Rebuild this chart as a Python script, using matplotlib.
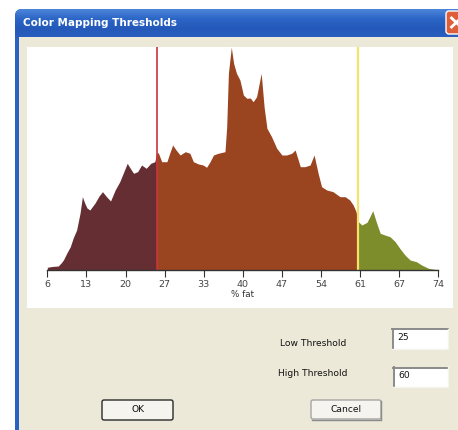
import numpy as np
import matplotlib
matplotlib.use("Agg")
import matplotlib.pyplot as plt
from matplotlib.patches import Rectangle, FancyBboxPatch
from matplotlib.colors import LinearSegmentedColormap

# ---------------- data ----------------
fat_pct = [6.0, 6.8, 7.9, 8.4, 8.8, 9.4, 10.0, 10.5, 11.1, 11.7, 12.1, 12.5, 12.9,
           13.4, 14.3, 15.0, 15.6, 16.3, 17.0, 17.8, 18.6, 19.2, 19.9, 20.4, 21.0,
           21.7, 22.4, 23.2, 24.0, 24.7, 25.0, 25.3, 25.9, 26.8, 27.3, 27.8, 28.4,
           29.1, 30.0, 30.8, 31.4, 32.3, 33.1, 33.7, 34.3, 34.9, 35.7, 36.9, 37.2,
           37.5, 38.0, 38.4, 38.9, 39.5, 40.1, 40.7, 41.3, 41.8, 42.4, 42.8, 43.2,
           43.7, 44.2, 45.0, 45.9, 46.8, 47.6, 48.5, 49.1, 50.0, 50.8, 51.7, 52.4,
           53.1, 53.7, 54.6, 55.7, 56.9, 57.8, 58.6, 59.2, 59.7, 60.0, 60.1, 60.7,
           61.6, 62.1, 62.6, 63.2, 63.9, 64.7, 65.6, 66.5, 67.3, 68.2, 69.1, 70.2,
           71.1, 72.3, 73.4, 74.0]
counts = [2.7, 3.5, 4.0, 7.0, 10.0, 17.0, 23.3, 32.0, 40.0, 57.0, 73.3, 67.0, 62.0,
          60.0, 67.0, 74.0, 78.3, 73.3, 69.0, 80.0, 88.3, 96.7, 106.7, 102.0, 96.7,
          98.3, 105.0, 101.7, 106.7, 108.3, 116.7, 117.3, 108.3, 108.3, 117.0, 125.0, 120.0,
          115.0, 118.3, 116.7, 108.3, 106.0, 105.0, 102.7, 108.3, 115.0, 116.7, 118.3, 143.3,
          197.0, 222.7, 206.7, 196.7, 190.0, 175.0, 171.7, 172.0, 168.3, 173.3, 185.0, 196.7,
          163.3, 141.7, 133.3, 121.7, 115.0, 115.0, 116.7, 120.0, 103.3, 103.3, 105.0, 115.0,
          96.7, 83.3, 80.0, 78.3, 73.3, 73.3, 70.0, 65.0, 58.3, 49.0, 48.3, 45.0,
          47.7, 53.3, 59.3, 48.3, 36.7, 35.0, 33.3, 28.3, 21.7, 15.0, 10.0, 8.3,
          5.0, 1.7, 0.7, 0.5]
tick_values = [6, 12.8, 19.6, 26.4, 33.2, 40, 46.8, 53.6, 60.4, 67.2, 74]
tick_labels = ["6", "13", "20", "27", "33", "40", "47", "54", "61", "67", "74"]
low_threshold = 25
high_threshold = 60
title = "Color Mapping Thresholds"
x_label = "% fat"

# ---------------- figure / dialog chrome ----------------
W, H = 458, 430
fig = plt.figure(figsize=(W / 100, H / 100), dpi=100)
fig.patch.set_facecolor("white")
ui = fig.add_axes([0, 0, 1, 1])
ui.axis("off")

frame = FancyBboxPatch((15, 9), 470, 440, boxstyle="round,pad=0,rounding_size=7",
                       facecolor="#2A62C2", edgecolor="none", zorder=0)
ui.add_patch(frame)
grad = np.linspace(0, 1, 100).reshape(-1, 1)
cmap = LinearSegmentedColormap.from_list("tb", ["#4C86DA", "#2C66C6", "#2459BA", "#2A5FBF"])
im = ui.imshow(grad, extent=(15, 485, 38, 9), cmap=cmap, aspect="auto", zorder=1)
im.set_clip_path(frame)

ui.add_patch(Rectangle((19, 37), 450, 400, facecolor="#ECE9D8", edgecolor="none", zorder=2))
ui.add_patch(Rectangle((27, 47), 426, 261, facecolor="white", edgecolor="none", zorder=3))

ui.text(23, 23.5, title, color="white", fontsize=7.5, fontweight="bold",
        family="DejaVu Sans", ha="left", va="center", zorder=4)

ui.add_patch(FancyBboxPatch((446, 11), 22, 23, boxstyle="round,pad=0,rounding_size=3",
                            facecolor="#DF5E3A", edgecolor="white", lw=1, zorder=4))
ui.plot([450.5, 462], [17, 28], color="white", lw=2, zorder=5, solid_capstyle="butt")
ui.plot([450.5, 462], [28, 17], color="white", lw=2, zorder=5, solid_capstyle="butt")

ui_font = dict(family="DejaVu Sans", fontsize=6.6, color="#111111", zorder=5)
ui.text(313.5, 343.5, "Low Threshold", ha="center", va="center", **ui_font)
ui.text(313, 373, "High Threshold", ha="center", va="center", **ui_font)


def textbox(x, y, w, h, val):
    ui.add_patch(Rectangle((x, y), w, h, facecolor="white", edgecolor="none", zorder=4))
    ui.plot([x, x + w], [y + 0.7, y + 0.7], color="#8A8A8A", lw=1.4, zorder=5)
    ui.plot([x + 0.7, x + 0.7], [y, y + h], color="#8A8A8A", lw=1.4, zorder=5)
    ui.plot([x, x + w], [y + h, y + h], color="#F4F3EE", lw=1, zorder=5)
    ui.plot([x + w, x + w], [y, y + h], color="#F4F3EE", lw=1, zorder=5)
    ui.text(x + 5, y + h / 2 - 1, val, ha="left", va="center", **ui_font)


textbox(392, 328.5, 56, 20, str(low_threshold))
textbox(393, 367, 55, 20, str(high_threshold))


def button(x, y, w, h, label, edge, lw):
    ui.add_patch(FancyBboxPatch((x, y), w, h, boxstyle="round,pad=0,rounding_size=2",
                                facecolor="#F5F4EF", edgecolor=edge, lw=lw, zorder=4))
    ui.text(x + w / 2, y + h / 2, label, ha="center", va="center", **ui_font)


button(102, 400, 71, 20, "OK", "#2A2A2A", 1.0)
button(311, 400, 70, 19, "Cancel", "#A5A5A5", 1.0)
ui.plot([381, 381], [401, 419], color="#8C8C8C", lw=1, zorder=5)
ui.plot([312, 381], [419.5, 419.5], color="#8C8C8C", lw=1, zorder=5)

ui.set_xlim(0, W)
ui.set_ylim(H, 0)

# ---------------- histogram ----------------
x0, x1, ytop, ybase = 47.3, 438.3, 47, 270
ax = fig.add_axes([x0 / W, (H - ybase) / H, (x1 - x0) / W, (ybase - ytop) / H])
ax.set_facecolor("none")
ax.set_zorder(5)

xv = np.array(fat_pct)
yv = np.array(counts)


def segment(lo, hi):
    m = (xv > lo) & (xv < hi)
    xs = np.concatenate([[lo], xv[m], [hi]])
    return xs, np.interp(xs, xv, yv)


for (lo, hi), col in [((xv[0], low_threshold), "#652E33"),
                      ((low_threshold, high_threshold), "#9A4520"),
                      ((high_threshold, xv[-1]), "#7E8D2B")]:
    xs, ys = segment(lo, hi)
    ax.fill_between(xs, 0, ys, color=col, lw=0)

ax.axvline(low_threshold, color="#C8343C", lw=1.2)
ax.axvline(high_threshold, color="#F3E36A", lw=1.6)

ax.set_xlim(6, 74)
ax.set_ylim(0, 223)
for s in ("top", "left", "right"):
    ax.spines[s].set_visible(False)
ax.spines["bottom"].set_color("#333333")
ax.spines["bottom"].set_linewidth(1)
ax.set_yticks([])
ax.set_xticks(tick_values, tick_labels)
ax.tick_params(axis="x", length=5, width=0.8, color="#333333", labelsize=6.8,
               labelcolor="#444444", pad=2)
ax.set_xlabel(x_label, fontsize=6.3, color="#333333", labelpad=0.8)

fig.savefig("out.png", dpi=100, facecolor=fig.get_facecolor())
